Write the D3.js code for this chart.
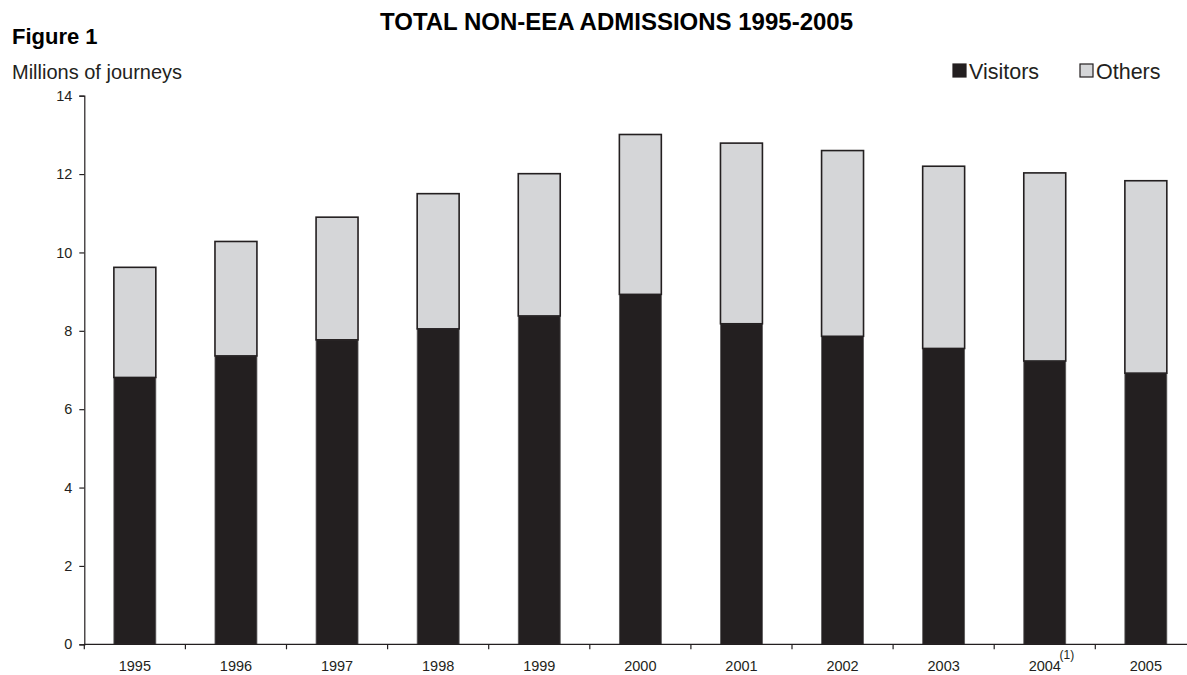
<!DOCTYPE html>
<html>
<head>
<meta charset="utf-8">
<script src="https://cdn.jsdelivr.net/npm/d3@7"></script>
<style>
  html, body { margin: 0; padding: 0; background: #fff; }
  svg { display: block; font-family: "Liberation Sans", Arial, Helvetica, sans-serif; }
</style>
</head>
<body>
<svg id="chart" width="1187" height="675"></svg>
<script>
// Non-EEA admissions, millions of journeys
const years = ["1995", "1996", "1997", "1998", "1999", "2000", "2001", "2002", "2003", "2004", "2005"];
const visitors = [6.81, 7.36, 7.77, 8.05, 8.38, 8.93, 8.18, 7.86, 7.55, 7.23, 6.92];
const totals   = [9.62, 10.28, 10.9, 11.5, 12.01, 13.01, 12.79, 12.6, 12.2, 12.03, 11.83];
const others = totals.map((t, i) => +(t - visitors[i]).toFixed(2));
const yTicks = [0, 2, 4, 6, 8, 10, 12, 14];
const seriesNames = ["Visitors", "Others"];
const footnoteYear = "2004";
const footnoteMark = "(1)";

const ink = "#231f20";
const lightFill = "#d5d6d8";

const svg = d3.select("#chart");

const plotLeft = 84.3, plotRight = 1196.4, plotTop = 95.7, plotBottom = 644.3;

const x = d3.scaleBand().domain(years).range([plotLeft, plotRight]).paddingInner(0.585).paddingOuter(0.2925);
const y = d3.scaleLinear().domain([0, 14]).range([plotBottom, plotTop]);

const rows = years.map((yr, i) => ({ year: yr, Visitors: visitors[i], Others: others[i] }));
const stacked = d3.stack().keys(seriesNames)(rows);

// bars
const g = svg.append("g");
stacked.forEach(layer => {
  const isVis = layer.key === "Visitors";
  g.append("g").selectAll("rect").data(layer).join("rect")
    .attr("x", d => x(d.data.year))
    .attr("width", x.bandwidth())
    .attr("y", d => y(d[1]))
    .attr("height", d => y(d[0]) - y(d[1]))
    .attr("fill", isVis ? ink : lightFill)
    .attr("stroke", isVis ? "#5a5859" : ink)
    .attr("stroke-width", isVis ? 0.8 : 1.6);
});

// y axis
const yAxis = d3.axisLeft(y).tickValues(yTicks).tickSize(5).tickPadding(7).tickFormat(d3.format("d"));
const ya = svg.append("g").attr("transform", `translate(${plotLeft},0)`).call(yAxis);
ya.select(".domain").attr("stroke", ink).attr("stroke-width", 1.2);
ya.selectAll(".tick line").attr("stroke", ink).attr("stroke-width", 1.2);
ya.selectAll(".tick text").attr("fill", ink).style("font-size", "14.5px");

// x axis: labels at band centres, ticks on band boundaries
const xAxis = d3.axisBottom(x).tickSize(0).tickPadding(16);
const xa = svg.append("g").attr("transform", `translate(0,${plotBottom})`).call(xAxis);
xa.select(".domain").remove();
xa.selectAll(".tick text").attr("fill", ink).style("font-size", "14.5px");
xa.append("line").attr("x1", plotLeft).attr("x2", plotRight).attr("y1", 0).attr("y2", 0)
  .attr("stroke", ink).attr("stroke-width", 1.2);
const step = x.step();
const boundaryTicks = years.map((yr, i) => i === 0 ? plotLeft : x(yr) - (step - x.bandwidth()) / 2);
xa.selectAll("line.bt").data(boundaryTicks).join("line").attr("class", "bt")
  .attr("x1", d => d).attr("x2", d => d).attr("y1", 0).attr("y2", 5)
  .attr("stroke", ink).attr("stroke-width", 1.2);

// footnote marker on the 2004 label
xa.selectAll(".tick").filter(d => d === footnoteYear).each(function () {
  const t = d3.select(this).select("text");
  const w = t.node().getComputedTextLength();
  d3.select(this).append("text")
    .attr("x", w / 2 + 6).attr("y", 14).attr("dy", "0.1em")
    .attr("fill", ink).style("font-size", "12px")
    .text(footnoteMark);
});

// titles
svg.append("text").attr("x", 12).attr("y", 44).attr("fill", "#000")
  .style("font-size", "22px").style("font-weight", "bold").text("Figure 1");
svg.append("text").attr("x", 380).attr("y", 30).attr("fill", "#000")
  .style("font-size", "24px").style("font-weight", "bold").text("TOTAL NON-EEA ADMISSIONS 1995-2005");
svg.append("text").attr("x", 12).attr("y", 79).attr("fill", ink)
  .style("font-size", "20px").text("Millions of journeys");

// legend
const legend = [
  { name: seriesNames[0], x: 953, fill: ink, stroke: ink },
  { name: seriesNames[1], x: 1080, fill: lightFill, stroke: ink }
];
const lg = svg.append("g").selectAll("g").data(legend).join("g")
  .attr("transform", d => `translate(${d.x},64)`);
lg.append("rect").attr("width", 13).attr("height", 13)
  .attr("fill", d => d.fill).attr("stroke", d => d.stroke).attr("stroke-width", 1.2);
lg.append("text").attr("x", 16).attr("y", 14.5).attr("fill", ink)
  .style("font-size", "21.5px").text(d => d.name);
</script>
</body>
</html>
